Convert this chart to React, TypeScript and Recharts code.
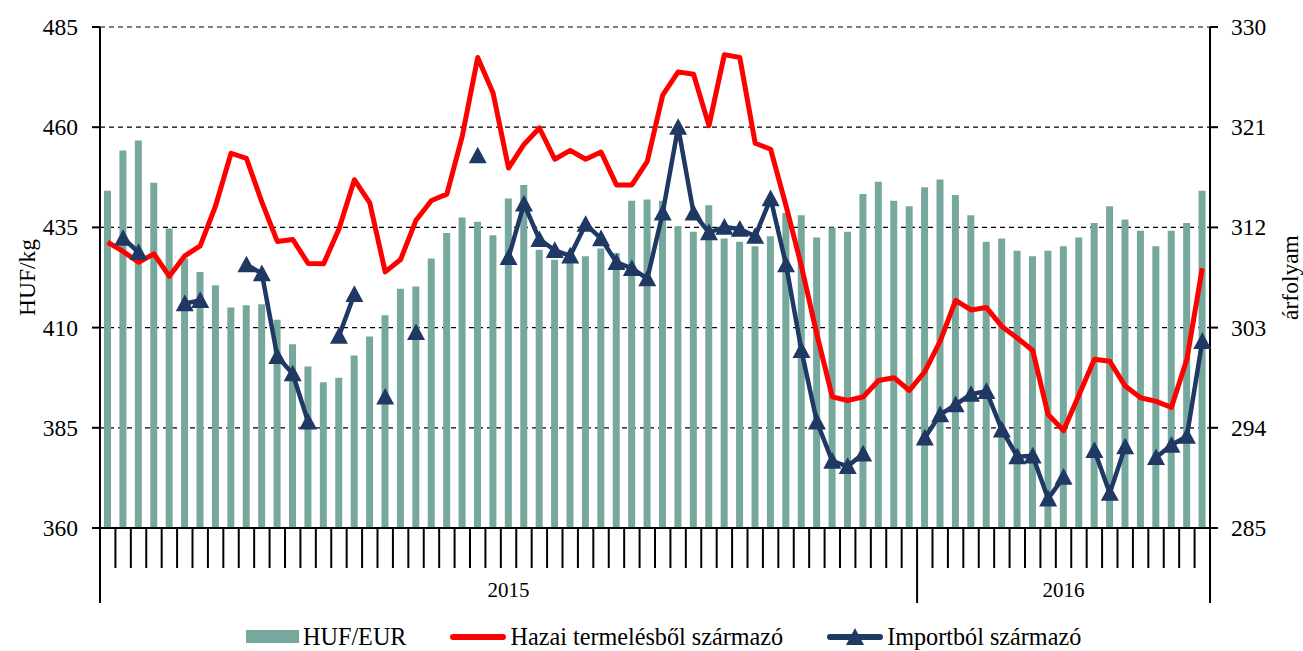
import { ComposedChart, Bar, Line, XAxis, YAxis, CartesianGrid } from "recharts";

const years = ["2015", "2016"];
const weeksInYear = [53, 19];

// HUF/EUR árfolyam (jobb tengely)
const hufEur = [
  315.3, 318.9, 319.8, 316.0, 311.9, 309.2, 308.0, 306.8, 304.8, 305.0,
  305.1, 303.7, 301.5, 299.5, 298.1, 298.5, 300.5, 302.2, 304.1, 306.5,
  306.7, 309.2, 311.5, 312.9, 312.5, 311.3, 314.6, 315.8, 310.0, 309.1,
  308.8, 309.4, 310.1, 309.7, 314.4, 314.5, 314.4, 312.1, 311.6, 314.0,
  311.0, 310.7, 310.3, 311.2, 313.3, 313.1, 311.1, 312.0, 311.6, 315.0,
  316.1, 314.4, 313.9, 315.6, 316.3, 314.9, 313.1, 310.7, 311.0, 309.9,
  309.4, 309.9, 310.3, 311.1, 312.4, 313.9, 312.7, 311.7, 310.3, 311.7,
  312.4, 315.3,
];

// Hazai termelésből származó (HUF/kg)
const hazai = [
  431.3, 429.0, 426.3, 428.4, 422.8, 427.9, 430.4, 440.4, 453.5, 452.2,
  441.3, 431.5, 432.0, 426.0, 425.9, 434.6, 446.9, 441.1, 423.9, 427.0,
  436.8, 441.7, 443.3, 457.8, 477.4, 468.5, 449.8, 455.7, 459.8, 452.0,
  454.2, 452.0, 453.8, 445.6, 445.6, 451.5, 468.0, 473.8, 473.2, 460.4,
  478.1, 477.4, 456.0, 454.5, 440.4, 425.3, 408.3, 392.7, 391.8, 392.7,
  396.8, 397.5, 394.3, 399.0, 406.6, 416.8, 414.4, 415.0, 410.3, 407.4,
  404.3, 388.3, 384.3, 393.2, 402.1, 401.6, 395.4, 392.5, 391.6, 390.1,
  402.1, 424.8,
];

// Importból származó (HUF/kg), null = nincs adat
const importbol = [
  null, 432.3, 428.8, null, null, 416.0, 416.8, null, null, 425.7,
  423.5, 402.8, 398.5, 386.5, null, 407.9, 418.3, null, 392.7, null,
  408.8, null, null, null, 452.9, null, 427.5, 440.9, 432.0, 429.3,
  427.9, 435.8, 432.2, 426.3, 424.8, 422.2, 438.6, 460.0, 438.6, 433.7,
  435.1, 434.6, 432.8, 442.2, 425.7, 404.3, 386.5, 376.7, 375.4, 378.5,
  null, null, null, 382.5, 388.3, 390.8, 393.4, 394.1, 384.5, 377.8,
  378.0, 367.3, 372.7, null, 379.4, 368.7, 380.3, null, 377.6, 380.7,
  382.9, 406.6,
];

const leftTicks = [360, 385, 410, 435, 460, 485];
const rightTicks = [285, 294, 303, 312, 321, 330];

const BAR_COLOR = "#76A89D";
const RED = "#FF0000";
const NAVY = "#1F3864";
const FONT = "Liberation Serif, Times New Roman, serif";

const categories = years.flatMap((y, yi) =>
  Array.from({ length: weeksInYear[yi] }, (_, w) => ({ year: y, week: w + 1 }))
);

const data = categories.map((c, i) => ({
  name: `${c.year}/${c.week}`,
  year: c.year,
  week: c.week,
  hufEur: hufEur[i],
  hazai: hazai[i],
  importbol: importbol[i],
}));

function WeekTick(props: any) {
  const { x, y, payload } = props;
  const i = payload.index;
  const half = payload.offset || 7.7;
  const row = data[i];
  const left = x - half;
  const yearStart = row.week === 1;
  const last = i === data.length - 1;
  const yi = years.indexOf(row.year);
  return (
    <g>
      <line x1={left} x2={left} y1={y} y2={y + (yearStart ? 75 : 40)} stroke="#000" strokeWidth={2} />
      {last && <line x1={x + half} x2={x + half} y1={y} y2={y + 75} stroke="#000" strokeWidth={2} />}
      {yearStart && (
        <text x={left + weeksInYear[yi] * half} y={y + 69} textAnchor="middle" fontFamily={FONT} fontSize={21} fill="#000">
          {row.year}
        </text>
      )}
    </g>
  );
}

function ValueTick(props: any) {
  const { x, y, payload, textAnchor } = props;
  return (
    <text x={x} y={y} textAnchor={textAnchor} dominantBaseline="central" fontFamily={FONT} fontSize={23.5} fill="#000">
      {payload.value}
    </text>
  );
}

function TriangleDot(props: any) {
  const { cx, cy, index } = props;
  if (cx == null || cy == null) return <g key={`t-${index}`} />;
  const s = 9;
  return (
    <path
      key={`t-${index}`}
      d={`M${cx},${cy - s} L${cx + s},${cy + s * 0.85} L${cx - s},${cy + s * 0.85} Z`}
      fill={NAVY}
    />
  );
}

function AxisTitle({ vb, dx, text }: { vb: any; dx: number; text: string }) {
  const cx = vb.x + dx;
  const cy = vb.y + vb.height / 2;
  return (
    <text
      x={cx}
      y={cy}
      transform={`rotate(-90 ${cx} ${cy})`}
      textAnchor="middle"
      dominantBaseline="central"
      fontFamily={FONT}
      fontSize={23.5}
      fill="#000"
    >
      {text}
    </text>
  );
}

const legendItems = [
  { label: "HUF/EUR", kind: "bar" },
  { label: "Hazai termelésből származó", kind: "red" },
  { label: "Importból származó", kind: "navy" },
];

function LegendSwatch({ kind }: { kind: string }) {
  if (kind === "bar") {
    return (
      <svg width={53} height={20}>
        <rect x={0} y={3} width={53} height={13} fill={BAR_COLOR} />
      </svg>
    );
  }
  const color = kind === "red" ? RED : NAVY;
  return (
    <svg width={56} height={20}>
      <line x1={3} x2={53} y1={10} y2={10} stroke={color} strokeWidth={6} strokeLinecap="round" />
      {kind === "navy" && <path d="M28,1 L37,18 L19,18 Z" fill={NAVY} />}
    </svg>
  );
}

export default function App() {
  return (
    <div style={{ position: "relative", width: 1303, height: 651, background: "#fff" }}>
      <style>{"body{margin:0}"}</style>
      <ComposedChart width={1303} height={651} data={data} margin={{ top: 27, right: 0, bottom: 0, left: 0 }}>
        <CartesianGrid yAxisId="left" vertical={false} stroke="#000" strokeDasharray="5 4" strokeWidth={1.2} />
        <XAxis
          dataKey="name"
          interval={0}
          height={123}
          tickLine={false}
          tickSize={0}
          tickMargin={0}
          axisLine={{ stroke: "#000", strokeWidth: 2 }}
          tick={<WeekTick />}
        />
        <YAxis
          yAxisId="left"
          width={100}
          domain={[360, 485]}
          ticks={leftTicks}
          interval={0}
          allowDataOverflow
          axisLine={{ stroke: "#000", strokeWidth: 2 }}
          tickLine={{ stroke: "#000", strokeWidth: 2 }}
          tickSize={8}
          tickMargin={14}
          tick={<ValueTick />}
          label={{ content: (p: any) => <AxisTitle vb={p.viewBox} dx={27} text="HUF/kg" /> }}
        />
        <YAxis
          yAxisId="right"
          orientation="right"
          width={93}
          domain={[285, 330]}
          ticks={rightTicks}
          interval={0}
          allowDataOverflow
          axisLine={{ stroke: "#000", strokeWidth: 2 }}
          tickLine={{ stroke: "#000", strokeWidth: 2 }}
          tickSize={8}
          tickMargin={13}
          tick={<ValueTick />}
          label={{ content: (p: any) => <AxisTitle vb={p.viewBox} dx={80} text="árfolyam" /> }}
        />
        <Bar yAxisId="right" dataKey="hufEur" fill={BAR_COLOR} barSize={7} isAnimationActive={false} />
        <Line
          yAxisId="left"
          type="linear"
          dataKey="hazai"
          stroke={RED}
          strokeWidth={5}
          strokeLinejoin="round"
          dot={false}
          activeDot={false}
          isAnimationActive={false}
        />
        <Line
          yAxisId="left"
          type="linear"
          dataKey="importbol"
          stroke={NAVY}
          strokeWidth={4.5}
          strokeLinejoin="round"
          connectNulls={false}
          dot={<TriangleDot />}
          activeDot={false}
          isAnimationActive={false}
        />
      </ComposedChart>
      <div
        style={{
          position: "absolute",
          top: 623,
          left: 246,
          display: "flex",
          alignItems: "center",
          fontFamily: FONT,
          fontSize: 24.2,
          color: "#000",
          whiteSpace: "nowrap",
        }}
      >
        {legendItems.map((it, i) => (
          <div key={it.label} style={{ display: "flex", alignItems: "center", marginLeft: i === 0 ? 0 : 44 }}>
            <LegendSwatch kind={it.kind} />
            <span style={{ marginLeft: 4 }}>{it.label}</span>
          </div>
        ))}
      </div>
    </div>
  );
}
